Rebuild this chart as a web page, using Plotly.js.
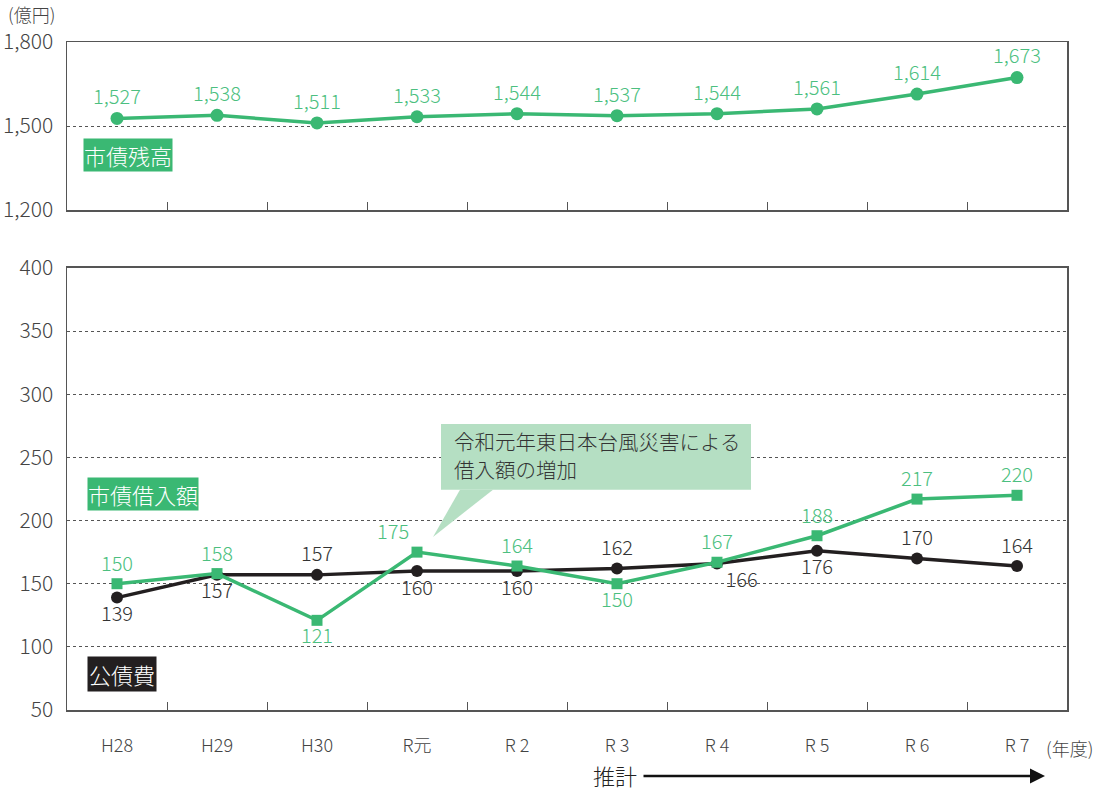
<!DOCTYPE html>
<html><head><meta charset="utf-8">
<script src="https://cdn.plot.ly/plotly-3.0.1.min.js"></script>
<style>body{margin:0;background:#fff}#c{width:1095px;height:791px}</style>
</head><body><div id="c"></div>
<script>
const categories = ["H28","H29","H30","R元","R 2","R 3","R 4","R 5","R 6","R 7"];
const debtBalance = [1527,1538,1511,1533,1544,1537,1544,1561,1614,1673];
const borrowing = [150,158,121,175,164,150,167,188,217,220];
const debtService = [139,157,157,160,160,162,166,176,170,164];
const borrowingPos = ["top center","top center","bottom center","top left","top center","bottom center","top center","top center","top center","top center"];
const servicePos = ["bottom center","bottom center","top center","bottom center","bottom center","top center","bottom right","bottom center","top center","top center"];

const GREEN = "#3ab873", BLACK = "#231f20", FONT = "Noto Sans CJK JP, Noto Sans, sans-serif";
const fmt = v => v.toLocaleString("en-US");

const traces = [
  {x: categories, y: debtBalance, xaxis: "x2", yaxis: "y2", mode: "lines+markers+text",
   line: {color: GREEN, width: 3.5}, marker: {color: GREEN, size: 13, symbol: "circle"},
   text: debtBalance.map(fmt), textposition: "top center",
   textfont: {color: "#4cbf80", size: 20, family: FONT, weight: 300}, cliponaxis: false, hoverinfo: "skip"},
  {x: categories, y: debtService, xaxis: "x", yaxis: "y", mode: "lines+markers+text",
   line: {color: BLACK, width: 3.5}, marker: {color: BLACK, size: 12, symbol: "circle"},
   text: debtService.map(String), textposition: servicePos,
   textfont: {color: "#333", size: 20, family: FONT, weight: 300}, cliponaxis: false, hoverinfo: "skip"},
  {x: categories, y: borrowing, xaxis: "x", yaxis: "y", mode: "lines+markers+text",
   line: {color: GREEN, width: 3.5}, marker: {color: GREEN, size: 11, symbol: "square"},
   text: borrowing.map(String), textposition: borrowingPos,
   textfont: {color: "#4cbf80", size: 20, family: FONT, weight: 300}, cliponaxis: false, hoverinfo: "skip"}
];

const axisCommon = {showline: true, linecolor: "#555", linewidth: 1.5, mirror: true,
  zeroline: false, tickfont: {size: 18, color: "#444", family: FONT, weight: 300}};

const layout = {
  width: 1095, height: 791, showlegend: false,
  paper_bgcolor: "#fff", plot_bgcolor: "#fff",
  margin: {l: 67, r: 28, t: 42, b: 81},
  font: {family: FONT, color: "#333", weight: 300},
  xaxis: Object.assign({}, axisCommon, {anchor: "y", type: "category", ticks: "inside", tickson: "boundaries",
    ticklen: 8, tickcolor: "#555", showgrid: false, ticklabelstandoff: 19, range: [-0.5, 9.5]}),
  xaxis2: Object.assign({}, axisCommon, {anchor: "y2", type: "category", matches: "x", ticks: "inside",
    tickson: "boundaries", ticklen: 8, tickcolor: "#555", showgrid: false, showticklabels: false, range: [-0.5, 9.5]}),
  yaxis: Object.assign({}, axisCommon, {domain: [0, 0.6617], range: [50, 400], tickvals: [50,100,150,200,250,300,350,400],
    ticks: "", showgrid: true, gridcolor: "#555", griddash: "dot", gridwidth: 1, ticklabelstandoff: 8,
    tickfont: {size: 21, color: "#444", family: FONT, weight: 300}}),
  yaxis2: Object.assign({}, axisCommon, {domain: [0.7485, 1], range: [1200, 1800], tickvals: [1200,1500,1800],
    ticktext: ["1,200","1,500","1,800"], ticks: "", showgrid: true, gridcolor: "#555", griddash: "dot", gridwidth: 1,
    ticklabelstandoff: 8, tickfont: {size: 21, color: "#444", family: FONT, weight: 300}}),
  shapes: [
    {type: "rect", xref: "paper", yref: "paper", x0: 0.374, x1: 0.684, y0: 0.3299, y1: 0.4281,
     fillcolor: "#b5dfc3", line: {width: 0}, layer: "above"},
    {type: "path", xref: "paper", yref: "paper", path: "M 0.366 0.2590 L 0.393 0.3299 L 0.426 0.3299 Z",
     fillcolor: "#b5dfc3", line: {width: 0}, layer: "above"}
  ],
  annotations: [
    {xref: "paper", yref: "paper", x: 0.385, y: (710 - 441) / 668, xanchor: "left", yanchor: "middle", align: "left",
     text: "令和元年東日本台風災害による", showarrow: false, font: {size: 20.5, color: "#333", family: FONT, weight: 300}},
    {xref: "paper", yref: "paper", x: 0.385, y: (710 - 469) / 668, xanchor: "left", yanchor: "middle", align: "left",
     text: "借入額の増加", showarrow: false, font: {size: 20.5, color: "#333", family: FONT, weight: 300}},
    {xref: "paper", yref: "paper", x: 0.016, y: 0.8308, xanchor: "left", yanchor: "middle",
     text: "市債残高", showarrow: false, bgcolor: GREEN, borderpad: 0, font: {size: 22, color: "#fff", family: FONT, weight: 300}},
    {xref: "paper", yref: "paper", x: 0.020, y: 0.3234, xanchor: "left", yanchor: "middle",
     text: "市債借入額", showarrow: false, bgcolor: GREEN, borderpad: 0, font: {size: 22, color: "#fff", family: FONT, weight: 300}},
    {xref: "paper", yref: "paper", x: 0.020, y: 0.0539, xanchor: "left", yanchor: "middle",
     text: "公債費", showarrow: false, bgcolor: BLACK, borderpad: 1, font: {size: 22, color: "#fff", family: FONT, weight: 300}},
    {xref: "paper", yref: "paper", x: -0.061, y: 1.0195, xanchor: "left", yanchor: "bottom",
     text: "(億円)", showarrow: false, font: {size: 18, color: "#444", family: FONT, weight: 300}},
    {xref: "paper", yref: "paper", x: 0.977, y: -0.057, xanchor: "left", yanchor: "middle",
     text: "(年度)", showarrow: false, font: {size: 18, color: "#444", family: FONT, weight: 300}},
    {xref: "paper", yref: "paper", x: 0.548, y: (710 - 775) / 668, xanchor: "center", yanchor: "middle",
     text: "推計", showarrow: false, borderpad: 0, font: {size: 22, color: "#222", family: FONT, weight: 300}},
    {xref: "paper", yref: "paper", x: 0.978, y: (710 - 776) / 668, ax: -403, ay: 0, axref: "pixel", ayref: "pixel",
     text: "", showarrow: true, arrowhead: 2, arrowsize: 1.2, arrowwidth: 2.5, arrowcolor: "#111", standoff: 0}
  ]
};

Plotly.newPlot("c", traces, layout, {displayModeBar: false, staticPlot: true});
</script></body></html>
